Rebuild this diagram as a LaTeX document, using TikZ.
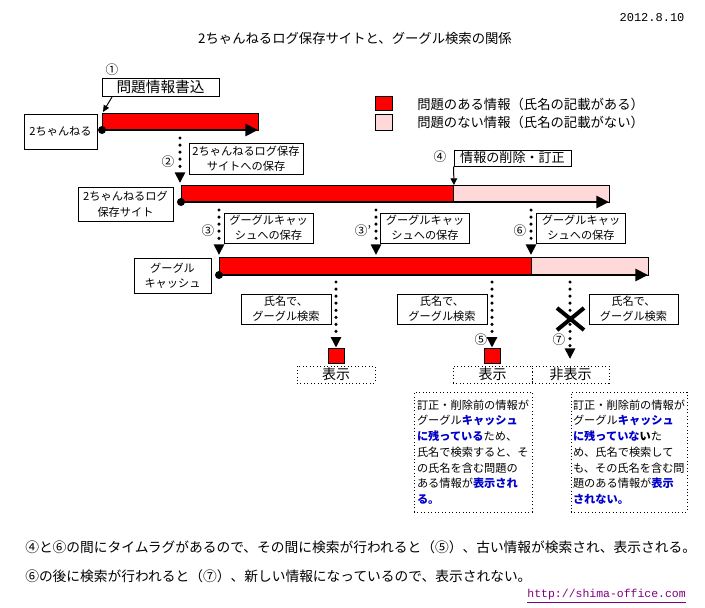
\documentclass[tikz,border=0pt]{standalone}
\usepackage{fontspec}
\setmainfont{Noto Sans CJK JP}
\newfontfamily\monofont{Liberation Mono}
\usetikzlibrary{arrows.meta}
\definecolor{barred}{RGB}{255,0,0}
\definecolor{barpink}{RGB}{255,217,217}
\definecolor{hiblue}{RGB}{0,0,204}
\definecolor{urlcol}{RGB}{128,0,128}
\newcommand\fsz[2]{\fontsize{#1}{#2}\selectfont}
\newcommand\hl[1]{{\bfseries\color{hiblue}#1}}
\begin{document}
\begin{tikzpicture}[x=0.75pt,y=-0.75pt,
  box/.style={draw, line width=0.75pt, inner sep=0pt, align=center},
  sz/.style 2 args={minimum width=#1*0.75pt, minimum height=#2*0.75pt},
  dotbox/.style={draw, line width=0.6pt, dotted, inner sep=0pt, align=center},
  barline/.style={line width=2.2pt, -{Triangle[length=9.5pt,width=9pt]}},
  dotarrow/.style={line width=2.6pt, line cap=round, dash pattern=on 0pt off 5.3pt, -{Triangle[length=8pt,width=7.5pt]}},
  thinarrow/.style={line width=0.75pt, -{Triangle[length=5pt,width=4.5pt]}},
  redbar/.style={fill=barred, draw=black, line width=0.5pt},
  pinkbar/.style={fill=barpink, draw=black, line width=0.5pt},
  redsq/.style={fill=barred, draw=black, line width=0.5pt, inner sep=0pt},
  num/.style={font=\fsz{9.5pt}{10pt}, inner sep=0pt},
  boxfont/.style={font=\fsz{8.4pt}{11.25pt}},
  notebox/.style={dotbox, align=left, font=\fsz{8.4pt}{11.8pt}},
]
\useasboundingbox (0,0) rectangle (705,607);
\fill[white] (0,0) rectangle (705,607);

% title and date
\node[font=\fsz{10pt}{12pt}] (title) at (355,38) {2ちゃんねるログ保存サイトと、グーグル検索の関係};
\node[font=\monofont\fsz{9pt}{11pt}] (date) at (652,18) {2012.8.10};

% legend
\node[redsq, sz={17}{14}] (legred) at (383.5,103) {};
\node[redsq, fill=barpink, sz={17}{16}] (legpink) at (383.5,122) {};
\node[anchor=west, font=\fsz{10pt}{12pt}, inner sep=0pt] (legt1) at (417,104) {問題のある情報（氏名の記載がある）};
\node[anchor=west, font=\fsz{10pt}{12pt}, inner sep=0pt] (legt2) at (417,122) {問題のない情報（氏名の記載がない）};

% bar 1 : 2ch
\draw[redbar] (102,113) rectangle (258,130);
\coordinate (b1s) at (102,130);
\coordinate (b1e) at (258,130);
\draw[barline] (b1s) -- (b1e);
\fill (b1s) circle (4);
\node[box, sz={73}{35}, boxfont] (ch2) at (60.5,131.5) {2ちゃんねる};
\node[num] (n1) at (112,70) {①};
\node[box, sz={117}{18}, font=\fsz{11pt}{12pt}] (write) at (160.5,87) {問題情報書込};
\coordinate (w1) at (112,97);
\coordinate (w2) at (103,112);
\draw[thinarrow] (w1) -- (w2);

% arrow 2
\coordinate (a2s) at (180,138);
\coordinate (a2e) at (180,183);
\draw[dotarrow] (a2s) -- (a2e);
\node[num] (n2) at (168,162) {②};
\node[box, sz={114}{31}, boxfont] (logsave) at (246,158.5) {2ちゃんねるログ保存\\サイトへの保存};

% bar 2 : log site
\draw[redbar] (181,185) rectangle (453,202);
\draw[pinkbar] (453,185) rectangle (609,202);
\coordinate (b2s) at (181,202);
\coordinate (b2e) at (609,202);
\draw[barline] (b2s) -- (b2e);
\fill (b2s) circle (4);
\node[box, sz={95}{34}, font=\fsz{8.4pt}{12pt}] (logsite) at (125.5,204) {2ちゃんねるログ\\保存サイト};

% 4 : deletion
\node[num] (n4) at (440,157) {④};
\node[box, sz={117}{16}, font=\fsz{9.8pt}{11pt}] (del) at (512.5,158) {情報の削除・訂正};
\coordinate (d2) at (454,185);
\draw[line width=0.75pt, -{Triangle[length=5pt,width=5pt]}] (del.south west) -- (d2);

% arrows 3, 3', 6
\coordinate (a3s) at (219,210);
\coordinate (a3e) at (219,255);
\draw[dotarrow] (a3s) -- (a3e);
\node[num] (n3) at (208,231) {③};
\node[box, sz={89}{30}, boxfont] (cache1) at (268.5,228) {グーグルキャッ\\シュへの保存};

\coordinate (a3bs) at (376,210);
\coordinate (a3be) at (376,255);
\draw[dotarrow] (a3bs) -- (a3be);
\node[num] (n3b) at (363,231) {③'};
\node[box, sz={89}{30}, boxfont] (cache2) at (425,228) {グーグルキャッ\\シュへの保存};

\coordinate (a6s) at (531,210);
\coordinate (a6e) at (531,255);
\draw[dotarrow] (a6s) -- (a6e);
\node[num] (n6) at (520,231) {⑥};
\node[box, sz={89}{30}, boxfont] (cache3) at (581,228) {グーグルキャッ\\シュへの保存};

% bar 3 : google cache
\draw[redbar] (219,257) rectangle (531,275);
\draw[pinkbar] (531,257) rectangle (648,275);
\coordinate (b3s) at (219,275);
\coordinate (b3e) at (648,275);
\draw[barline] (b3s) -- (b3e);
\fill (b3s) circle (4);
\node[box, sz={77}{35}, boxfont] (gcache) at (172.5,275.5) {グーグル\\キャッシュ};

% search arrows
\node[redsq, sz={16}{15}] (res1) at (336,355.5) {};
\node[redsq, sz={16}{15}] (res2) at (492.5,355.5) {};
\coordinate (s1s) at (336,282);
\coordinate (s2s) at (492,282);
\coordinate (s3s) at (570,282);
\coordinate (s3e) at (570,359);
\draw[dotarrow] (s1s) -- (res1.north -| s1s);
\draw[dotarrow] (s2s) -- (res2.north -| s2s);
\draw[dotarrow] (s3s) -- (s3e);
\draw[line width=3pt] (557,308) -- (584,330) (557,330) -- (584,308);
\node[num] (n5) at (481,340) {⑤};
\node[num] (n7) at (559,340) {⑦};

\node[box, sz={90}{30}, boxfont] (search1) at (286,309) {氏名で、\\グーグル検索};
\node[box, sz={90}{30}, boxfont] (search2) at (442,309) {氏名で、\\グーグル検索};
\node[box, sz={89}{30}, boxfont] (search3) at (633.5,309) {氏名で、\\グーグル検索};

% result boxes
\node[dotbox, sz={78}{17}, font=\fsz{10.5pt}{12pt}] (show1) at (336,374.5) {表示};
\node[dotbox, sz={79}{17}, font=\fsz{10.5pt}{12pt}] (show2) at (492.5,374.5) {表示};
\node[dotbox, sz={77}{17}, font=\fsz{10.5pt}{12pt}] (hide) at (570.5,374.5) {非表示};

% explanation boxes
\node[notebox, sz={118}{120}] (expl1) at (473,452) {訂正・削除前の情報が\\グーグル\hl{キャッシュ}\\\hl{に残っている}ため、\\氏名で検索すると、そ\\の氏名を含む問題の\\ある情報が\hl{表示され}\\\hl{る。}};
\node[notebox, sz={116}{120}] (expl2) at (629,452) {訂正・削除前の情報が\\グーグル\hl{キャッシュ}\\\hl{に残っていな}{\bfseries い}た\\め、氏名で検索して\\も、その氏名を含む問\\題のある情報が\hl{表示}\\\hl{されない。}};

% notes
\node[anchor=west, inner sep=0pt, font=\fsz{10.3pt}{12pt}] (note1) at (25,547) {④と⑥の間にタイムラグがあるので、その間に検索が行われると（⑤）、古い情報が検索され、表示される。};
\node[anchor=west, inner sep=0pt, font=\fsz{10.3pt}{12pt}] (note2) at (25,576) {⑥の後に検索が行われると（⑦）、新しい情報になっているので、表示されない。};
\node[anchor=east, inner sep=0pt, text=urlcol, font=\monofont\fsz{8.6pt}{10pt}] (url) at (686,596) {\underline{http://shima-office.com}};
\end{tikzpicture}
\end{document}
